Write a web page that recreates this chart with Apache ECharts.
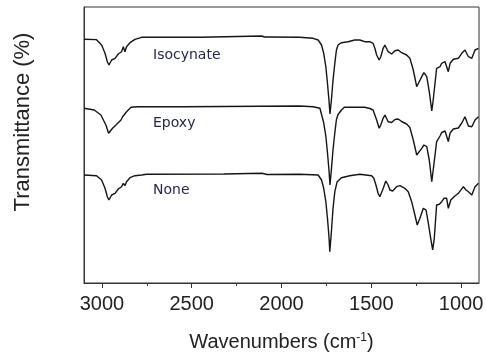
<!DOCTYPE html>
<html>
<head>
<meta charset="utf-8">
<script src="https://cdn.jsdelivr.net/npm/echarts@6/dist/echarts.min.js"></script>
<style>
  html, body { margin: 0; padding: 0; background: #fff; }
  #chart { width: 486px; height: 356px; }
</style>
</head>
<body>
<div id="chart"></div>
<script>
// FTIR spectra, [wavenumber cm-1, transmittance a.u.]
const majorTicks = [1000, 1500, 2000, 2500, 3000];
const minorTicks = [1250, 1750, 2250, 2750];
const curveNames = ['Isocynate', 'Epoxy', 'None'];

const isocynateData = [
  [3100, 243.7], [3032, 243.4], [3002, 238], [2983, 229.7], [2970, 221.3], [2961, 218],
  [2946, 223], [2927, 224.7], [2909, 229], [2891, 231.3], [2881, 236.3], [2872, 231.3],
  [2863, 236.3], [2844, 240.3], [2816, 243.7], [2779, 245.7], [2450, 245.7], [2440, 247],
  [2110, 247], [2095, 246], [2086, 246.8], [2076, 246], [1899, 245.7], [1824, 244.7],
  [1796, 243], [1777, 238], [1765, 229.7], [1753, 216.3], [1744, 199.7], [1735, 181.3],
  [1730, 169], [1722, 183], [1713, 203], [1703, 219.7], [1694, 233], [1685, 238],
  [1666, 240.3], [1629, 241.3], [1592, 243], [1564, 243], [1536, 241.3], [1508, 241.3],
  [1490, 239.7], [1480, 234.7], [1470, 228], [1456, 223], [1447, 226.3], [1434, 234.7],
  [1424, 238], [1406, 231.3], [1387, 229], [1368, 232.3], [1350, 233], [1331, 230.3],
  [1303, 228], [1285, 224.7], [1266, 213], [1247, 196.3], [1239, 197], [1219, 206.3],
  [1207, 210.3], [1191, 206.3], [1177, 191.3], [1163, 172], [1155, 183], [1136, 214.7],
  [1117, 216.3], [1108, 219.7], [1089, 221.3], [1071, 211.3], [1061, 219.7], [1043, 223.7],
  [1015, 224.7], [996, 229.7], [978, 233], [959, 226.3], [940, 224.7], [922, 233], [903, 234.7]
];

const epoxyData = [
  [3100, 174.7], [3043, 173], [3006, 168], [2978, 158], [2963, 149.7], [2941, 154.7],
  [2922, 158], [2894, 163], [2885, 166.3], [2876, 164.7], [2863, 171.3], [2838, 175.7],
  [2801, 176.3], [2545, 176.3], [2535, 177], [1899, 177], [1824, 176.3], [1786, 174.7],
  [1777, 168.5], [1765, 160.2], [1753, 146.8], [1744, 130.2], [1735, 111.8], [1730, 98],
  [1722, 113.5], [1713, 133.5], [1703, 150.2], [1694, 163.5], [1685, 168.5], [1666, 173],
  [1650, 175.7], [1592, 175.7], [1536, 175.7], [1508, 174.5], [1490, 173], [1480, 168],
  [1470, 163], [1456, 154.7], [1447, 158], [1434, 164.7], [1424, 168], [1406, 161.3],
  [1387, 160.5], [1368, 163.5], [1350, 164], [1331, 161.5], [1303, 159], [1285, 155.5],
  [1266, 143], [1247, 128], [1239, 129], [1219, 134.7], [1207, 138], [1191, 136.3],
  [1177, 123], [1163, 101.3], [1155, 113], [1136, 141.3], [1117, 147], [1108, 150.5],
  [1089, 152], [1071, 141.5], [1061, 150], [1043, 154], [1015, 155], [996, 160],
  [978, 166.3], [959, 157], [940, 156.3], [922, 163], [903, 166.3]
];

const noneData = [
  [3100, 108], [3030, 107.3], [3002, 103], [2983, 94.7], [2970, 86.3], [2961, 83],
  [2946, 88], [2927, 89.7], [2909, 94], [2891, 96.3], [2881, 99.7], [2872, 97.3],
  [2863, 101.3], [2844, 105.3], [2816, 107.3], [2779, 108], [2751, 108.7], [2320, 109],
  [2312, 109.7], [2110, 109.7], [2103, 108.7], [2080, 108.5], [2070, 109.2], [1899, 108.7],
  [1796, 108], [1777, 103], [1765, 94.7], [1753, 81.3], [1744, 64.7], [1735, 44.7],
  [1731, 31.3], [1722, 51.3], [1713, 74.7], [1703, 91.3], [1690, 101.3], [1666, 105.3],
  [1620, 107.3], [1564, 108.7], [1498, 107.3], [1486, 104.7], [1474, 98], [1462, 89.7],
  [1452, 86.3], [1437, 93], [1419, 102], [1406, 98], [1396, 93], [1381, 92],
  [1359, 96.3], [1340, 97.3], [1313, 94.7], [1294, 91.3], [1275, 81.3], [1257, 68],
  [1244, 58], [1229, 64.7], [1210, 74.7], [1195, 73], [1182, 59.7], [1169, 44.7],
  [1158, 33], [1149, 44.7], [1136, 78], [1121, 78.7], [1108, 81.3], [1095, 84.7],
  [1080, 84.7], [1071, 74.7], [1057, 83], [1039, 86.3], [1015, 89.7], [987, 96.3],
  [972, 93], [959, 91.3], [940, 88], [922, 96.3], [903, 99.7]
];

const chart = echarts.init(document.getElementById('chart'));
const fontFamily = '"Liberation Sans", Arial, sans-serif';
const axisColor = '#333';

const lineSeries = (name, data) => ({
  name: name,
  type: 'line',
  data: data,
  showSymbol: false,
  silent: true,
  lineStyle: { color: '#151515', width: 1.4 },
  animation: false
});

const option = {
  animation: false,
  grid: {
    left: 84, right: 7, top: 7, bottom: 73,
    outerBoundsMode: 'none',
    containLabel: false,
    show: true, borderColor: axisColor, borderWidth: 1
  },
  xAxis: [
    {
      type: 'value',
      inverse: true,
      min: 900,
      max: 3100,
      position: 'bottom',
      splitLine: { show: false },
      axisLine: { show: true, lineStyle: { color: axisColor, width: 1 } },
      axisTick: { show: true, inside: false, length: 5, customValues: majorTicks, lineStyle: { color: axisColor } },
      axisLabel: {
        customValues: majorTicks, margin: 11,
        formatter: v => String(v),
        color: '#222', fontSize: 20, fontFamily: fontFamily
      },
      name: 'Wavenumbers (cm{sup|-1})',
      nameLocation: 'middle',
      nameGap: 49,
      nameTextStyle: {
        color: '#222', fontSize: 20, fontFamily: fontFamily,
        rich: { sup: { fontSize: 12, verticalAlign: 'top', fontFamily: fontFamily, color: '#222' } }
      }
    },
    {
      type: 'value',
      inverse: true,
      min: 900,
      max: 3100,
      position: 'bottom',
      splitLine: { show: false },
      axisLine: { show: false },
      axisTick: { show: true, inside: false, length: 3, customValues: minorTicks, lineStyle: { color: axisColor } },
      axisLabel: { show: false }
    }
  ],
  yAxis: {
    type: 'value',
    min: 0,
    max: 276,
    splitLine: { show: false },
    axisLine: { show: true, lineStyle: { color: axisColor, width: 1 } },
    axisTick: { show: false },
    axisLabel: { show: false }
  },
  graphic: [
    {
      type: 'text', x: 23, y: 122, rotation: Math.PI / 2,
      style: {
        text: 'Transmittance (%)', fill: '#222',
        font: '22px "Liberation Sans", Arial, sans-serif',
        align: 'center', verticalAlign: 'middle'
      }
    },
    {
      type: 'text', x: 153, y: 55,
      style: { text: curveNames[0], fill: '#262650', font: '14px "DejaVu Sans", sans-serif', align: 'left', verticalAlign: 'middle' }
    },
    {
      type: 'text', x: 153, y: 123,
      style: { text: curveNames[1], fill: '#262650', font: '14px "DejaVu Sans", sans-serif', align: 'left', verticalAlign: 'middle' }
    },
    {
      type: 'text', x: 153, y: 190,
      style: { text: curveNames[2], fill: '#262650', font: '14px "DejaVu Sans", sans-serif', align: 'left', verticalAlign: 'middle' }
    }
  ],
  series: [
    lineSeries(curveNames[0], isocynateData),
    lineSeries(curveNames[1], epoxyData),
    lineSeries(curveNames[2], noneData)
  ]
};

chart.setOption(option);
</script>
</body>
</html>
